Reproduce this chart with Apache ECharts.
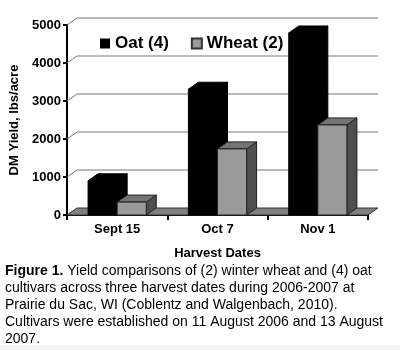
<!DOCTYPE html>
<html>
<head>
<meta charset="utf-8">
<script src="https://cdn.jsdelivr.net/npm/echarts@6/dist/echarts.min.js"></script>
<style>
html,body{margin:0;padding:0;background:#fff;}
#c{width:400px;height:350px;}
</style>
</head>
<body>
<div id="c"></div>
<script>
// ---- data ----
const categories = ['Sept 15', 'Oct 7', 'Nov 1'];
const oatValues = [900, 3310, 4790];
const wheatValues = [340, 1740, 2370];
const seriesNames = ['Oat (4)', 'Wheat (2)'];
const yTickValues = [0, 1000, 2000, 3000, 4000, 5000];
const xAxisTitle = 'Harvest Dates';
const yAxisTitle = 'DM Yield, lbs/acre';
const captionLines = [
  ['Figure 1.', ' Yield comparisons of (2) winter wheat and (4) oat'],
  ['', 'cultivars across three harvest dates during 2006-2007 at'],
  ['', 'Prairie du Sac, WI (Coblentz and Walgenbach, 2010).'],
  ['', 'Cultivars were established on 11 August 2006 and 13 August'],
  ['', '2007.']
];

// ---- styling ----
const FONT = "'Liberation Sans', Arial, sans-serif";
const DX = 10, DY = 7;
const BAR_FRAC = 0.29;

function barRenderer(side, colors) {
  return function (params, api) {
    const ci = api.value(0), v = api.value(1);
    const base = api.coord([ci, 0]);
    const tp = api.coord([ci, v]);
    const band = api.size([1, 0])[0];
    const bw = band * BAR_FRAC;
    const x0 = side === 0 ? base[0] - bw : base[0];
    const x1 = x0 + bw;
    const yb = base[1], yt = tp[1];
    const st = colors.stroke;
    return {
      type: 'group',
      children: [
        { type: 'polygon', shape: { points: [[x1, yb], [x1, yt], [x1 + DX, yt - DY], [x1 + DX, yb - DY]] },
          style: { fill: colors.side, stroke: st, lineWidth: 1 } },
        { type: 'polygon', shape: { points: [[x0, yt], [x1, yt], [x1 + DX, yt - DY], [x0 + DX, yt - DY]] },
          style: { fill: colors.top, stroke: st, lineWidth: 1 } },
        { type: 'rect', shape: { x: x0, y: yt, width: bw, height: yb - yt },
          style: { fill: colors.front, stroke: st, lineWidth: 1 } }
      ]
    };
  };
}

function wallRenderer(params, api) {
  const cs = params.coordSys;
  const y = api.coord([0, api.value(0)])[1];
  return {
    type: 'polyline',
    shape: { points: [[cs.x, y], [cs.x + DX, y - DY], [cs.x + cs.width + DX, y - DY]] },
    style: { stroke: '#777', lineWidth: 1, fill: null }
  };
}

function floorRenderer(params, api) {
  const cs = params.coordSys;
  const y = api.coord([0, api.value(0)])[1];
  return {
    type: 'polygon',
    shape: { points: [[cs.x, y], [cs.x + cs.width, y], [cs.x + cs.width + DX, y - DY], [cs.x + DX, y - DY]] },
    style: { fill: '#808080', stroke: '#333', lineWidth: 1 }
  };
}

const captionText = captionLines.map(function (l) {
  return (l[0] ? '{b|' + l[0] + '}' : '') + '{n|' + l[1] + '}';
}).join('\n');

const chart = echarts.init(document.getElementById('c'), null, { renderer: 'canvas' });
chart.setOption({
  backgroundColor: '#fff',
  animation: false,
  grid: { left: 67, right: 32, top: 25, bottom: 135, containLabel: false },
  legend: {
    data: seriesNames,
    left: 95, top: 30,
    icon: 'rect', itemWidth: 10, itemHeight: 10, itemGap: 22,
    textStyle: { fontFamily: FONT, fontSize: 17, fontWeight: 'bold', color: '#000' }
  },
  xAxis: {
    type: 'category',
    data: categories,
    name: xAxisTitle,
    nameLocation: 'middle',
    nameGap: 32,
    nameTextStyle: { fontFamily: FONT, fontSize: 13, fontWeight: 'bold', color: '#000' },
    axisLine: { lineStyle: { color: '#000', width: 2 } },
    axisTick: { show: true, length: 5, lineStyle: { color: '#000', width: 2 } },
    axisLabel: { fontFamily: FONT, fontSize: 13, fontWeight: 'bold', color: '#000', margin: 8 },
    splitLine: { show: false }
  },
  yAxis: {
    type: 'value',
    min: yTickValues[0],
    max: yTickValues[yTickValues.length - 1],
    interval: yTickValues[1] - yTickValues[0],
    name: yAxisTitle,
    nameLocation: 'middle',
    nameGap: 44,
    nameTextStyle: { fontFamily: FONT, fontSize: 13, fontWeight: 'bold', color: '#000' },
    axisLine: { show: true, lineStyle: { color: '#000', width: 2 } },
    axisTick: { show: true, length: 4, lineStyle: { color: '#000', width: 2 } },
    axisLabel: { fontFamily: FONT, fontSize: 13, fontWeight: 'bold', color: '#000', margin: 6,
      formatter: function (v) { return String(v); } },
    splitLine: { show: false }
  },
  series: [
    {
      type: 'custom', name: 'wall', z: 1, silent: true,
      renderItem: wallRenderer,
      data: yTickValues.slice(1).map(function (v) { return [v]; }),
      encode: { y: 0 }
    },
    {
      type: 'custom', name: 'floor', z: 1, silent: true,
      renderItem: floorRenderer,
      data: [[yTickValues[0]]],
      encode: { y: 0 }
    },
    {
      type: 'custom', name: seriesNames[0], z: 2,
      itemStyle: { color: '#000' },
      renderItem: barRenderer(0, { front: '#000', top: '#000', side: '#000', stroke: '#000' }),
      data: oatValues.map(function (v, i) { return [i, v]; }),
      encode: { x: 0, y: 1 }
    },
    {
      type: 'custom', name: seriesNames[1], z: 3,
      itemStyle: { color: '#999', borderColor: '#333', borderWidth: 1 },
      renderItem: barRenderer(1, { front: '#9a9a9a', top: '#747474', side: '#4f4f4f', stroke: '#222' }),
      data: wheatValues.map(function (v, i) { return [i, v]; }),
      encode: { x: 0, y: 1 }
    }
  ],
  graphic: [
    {
      type: 'rect', left: 0, top: 345, silent: true,
      shape: { width: 400, height: 5 },
      style: { fill: '#f3f3f3' }
    },
    {
      type: 'text', left: 5, top: 264,
      style: {
        text: captionText,
        fill: '#000',
        rich: {
          b: { fontFamily: FONT, fontSize: 14, fontWeight: 'bold', lineHeight: 17, fill: '#000' },
          n: { fontFamily: FONT, fontSize: 14, lineHeight: 17, fill: '#000' }
        }
      }
    }
  ]
});
</script>
</body>
</html>
